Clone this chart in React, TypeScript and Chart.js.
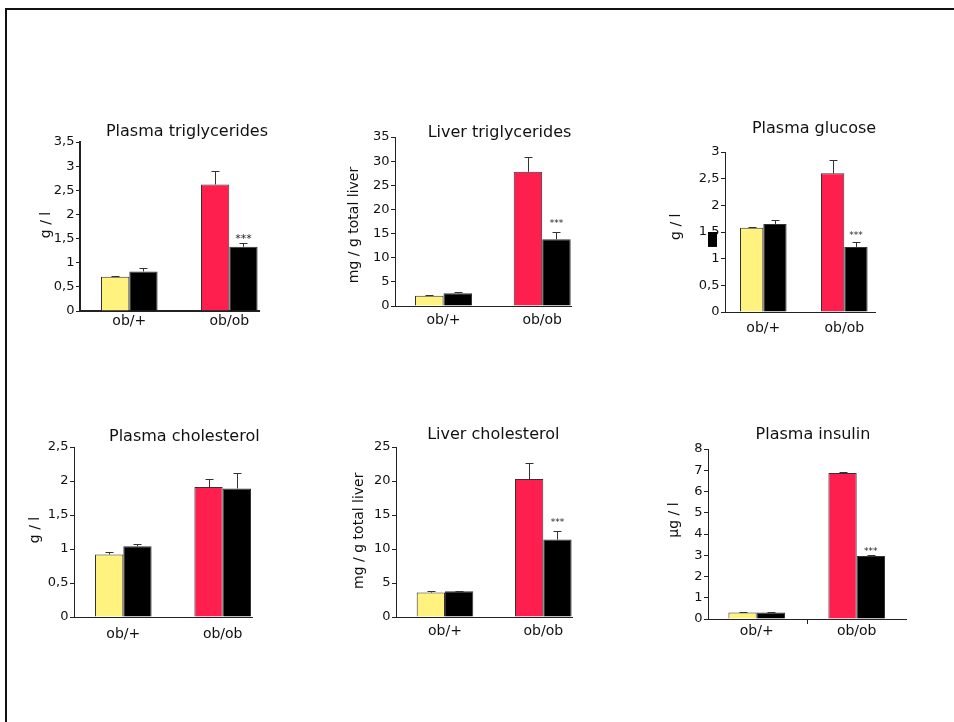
import React, { useEffect, useRef } from "react";
import { Chart, registerables } from "chart.js";

Chart.register(...registerables);

// ---------- data ----------
const categories = ["ob/+", "ob/ob"];
const panelTitles = [
  "Plasma triglycerides",
  "Liver triglycerides",
  "Plasma glucose",
  "Plasma cholesterol",
  "Liver cholesterol",
  "Plasma insulin",
];
const yAxisTitles = ["g / l", "mg / g total liver", "g / l", "g / l", "mg / g total liver", "µg / l"];
const yAxisMax = [3.5, 35, 3, 2.5, 25, 8];
const yAxisStep = [0.5, 5, 0.5, 0.5, 5, 1];

const plasmaTgUntreated = [0.71, 2.62];
const plasmaTgUntreatedErr = [0.02, 0.27];
const plasmaTgTreated = [0.82, 1.33];
const plasmaTgTreatedErr = [0.08, 0.07];

const liverTgUntreated = [2.14, 27.8];
const liverTgUntreatedErr = [0.2, 3.0];
const liverTgTreated = [2.63, 13.8];
const liverTgTreatedErr = [0.3, 1.6];

const glucoseUntreated = [1.58, 2.6];
const glucoseUntreatedErr = [0.02, 0.25];
const glucoseTreated = [1.65, 1.22];
const glucoseTreatedErr = [0.07, 0.09];

const plasmaCholUntreated = [0.92, 1.91];
const plasmaCholUntreatedErr = [0.03, 0.12];
const plasmaCholTreated = [1.04, 1.89];
const plasmaCholTreatedErr = [0.04, 0.23];

const liverCholUntreated = [3.59, 20.3];
const liverCholUntreatedErr = [0.24, 2.4];
const liverCholTreated = [3.78, 11.38];
const liverCholTreatedErr = [0.1, 1.2];

const insulinUntreated = [0.31, 6.87];
const insulinUntreatedErr = [0.02, 0.06];
const insulinTreated = [0.31, 2.97];
const insulinTreatedErr = [0.01, 0.06];

const treatedSignificance = [
  ["", "***"],
  ["", "***"],
  ["", "***"],
  ["", ""],
  ["", "***"],
  ["", "***"],
];

const untreatedMeans = [plasmaTgUntreated, liverTgUntreated, glucoseUntreated, plasmaCholUntreated, liverCholUntreated, insulinUntreated];
const untreatedErrs = [plasmaTgUntreatedErr, liverTgUntreatedErr, glucoseUntreatedErr, plasmaCholUntreatedErr, liverCholUntreatedErr, insulinUntreatedErr];
const treatedMeans = [plasmaTgTreated, liverTgTreated, glucoseTreated, plasmaCholTreated, liverCholTreated, insulinTreated];
const treatedErrs = [plasmaTgTreatedErr, liverTgTreatedErr, glucoseTreatedErr, plasmaCholTreatedErr, liverCholTreatedErr, insulinTreatedErr];

// ---------- style / layout ----------
const YELLOW = "#FFF27E";
const RED = "#FF1F4E";
const BLACK = "#000000";
const FONT = "'DejaVu Sans', Verdana, sans-serif";

const LAYOUT = [
  { axisLeft: 80, axisRight: 259, top: 142, zero: 311, c1: 129.3, c2: 229.3, barW: 28.3, titleX: 187, titleBase: 136, yTitleX: 46, yTitleY: 225, xPad: 2, axisW: 2, starRise: 8.3, starSize: 11 },
  { axisLeft: 395, axisRight: 571, top: 137, zero: 306, c1: 443.5, c2: 542.2, barW: 28.5, titleX: 499.5, titleBase: 136.7, yTitleX: 354, yTitleY: 225, xPad: 6, axisW: 1, starRise: 11.7, starSize: 9 },
  { axisLeft: 725, axisRight: 875, top: 152, zero: 312, c1: 763.3, c2: 844.3, barW: 23.3, titleX: 814, titleBase: 133.3, yTitleX: 676, yTitleY: 226.7, xPad: 8, axisW: 1, starRise: 9.6, starSize: 9, blot: true },
  { axisLeft: 74, axisRight: 252, top: 447, zero: 617, c1: 123.3, c2: 222.7, barW: 28.3, titleX: 184.3, titleBase: 440.7, yTitleX: 35, yTitleY: 530, xPad: 9, axisW: 1, starRise: 0, starSize: 9 },
  { axisLeft: 396, axisRight: 572, top: 447, zero: 617, c1: 445, c2: 543.3, barW: 28.3, titleX: 493.3, titleBase: 439, yTitleX: 359, yTitleY: 530.7, xPad: 6, axisW: 1, starRise: 11.3, starSize: 9 },
  { axisLeft: 708, axisRight: 906, top: 449, zero: 619, c1: 756.7, c2: 856.7, barW: 28.3, titleX: 813, titleBase: 439, yTitleX: 674, yTitleY: 520, xPad: 4, axisW: 1, starRise: 7, starSize: 9, midTick: true },
];

const Y_W = 70;
const PAD_T = 45;
const PAD_R = 30;
const X_H = 40;

const decorPlugin = {
  id: "panelDecor",
  afterDatasetsDraw(chart: any, _args: any, opts: any) {
    const ctx = chart.ctx;
    const yS = chart.scales.y;
    chart.data.datasets.forEach((ds: any, di: number) => {
      const meta = chart.getDatasetMeta(di);
      meta.data.forEach((bar: any, j: number) => {
        const v = ds.data[j].y;
        const e = ds.errors[j];
        const yTop = yS.getPixelForValue(v);
        const yErr = Math.round(yS.getPixelForValue(v + e)) + 0.5;
        const bx = Math.round(bar.x) + 0.5;
        ctx.save();
        ctx.strokeStyle = "#333";
        ctx.lineWidth = 1;
        ctx.beginPath();
        ctx.moveTo(bx, yTop);
        ctx.lineTo(bx, yErr);
        ctx.moveTo(bx - 4, yErr);
        ctx.lineTo(bx + 4, yErr);
        ctx.stroke();
        const star = ds.stars ? ds.stars[j] : "";
        if (star) {
          ctx.fillStyle = "#222";
          ctx.font = `${opts.starSize}px ${FONT}`;
          ctx.textAlign = "center";
          ctx.textBaseline = "alphabetic";
          ctx.fillText(star, bar.x, yErr - opts.starRise + 0.58 * opts.starSize);
        }
        ctx.restore();
      });
    });
  },
  afterDraw(chart: any, _args: any, opts: any) {
    const ctx = chart.ctx;
    const xS = chart.scales.x;
    const yS = chart.scales.y;
    const area = chart.chartArea;
    ctx.save();
    ctx.fillStyle = "#111";
    ctx.font = `16px ${FONT}`;
    ctx.textAlign = "center";
    ctx.textBaseline = "alphabetic";
    ctx.fillText(opts.title, opts.titleX, opts.titleY);

    ctx.save();
    ctx.translate(opts.yTitleX, opts.yTitleY);
    ctx.rotate(-Math.PI / 2);
    ctx.font = `14px ${FONT}`;
    ctx.textBaseline = "middle";
    ctx.fillText(opts.yTitle, 0, 0);
    ctx.restore();

    if (opts.midTick) {
      const mx = Math.round(xS.getPixelForValue(0.5)) + 0.5;
      ctx.strokeStyle = "#222";
      ctx.lineWidth = 1;
      ctx.beginPath();
      ctx.moveTo(mx, area.bottom);
      ctx.lineTo(mx, area.bottom + 5);
      ctx.stroke();
    }
    if (opts.blot) {
      const y1 = yS.getPixelForValue(1.5);
      const y2 = yS.getPixelForValue(1.22);
      ctx.fillStyle = "#000";
      ctx.fillRect(area.left - 17, y1, 9, y2 - y1);
    }
    ctx.restore();
  },
};

function fmt(v: number) {
  return String(Math.round(v * 100) / 100).replace(".", ",");
}

function Panel({ idx }: { idx: number }) {
  const ref = useRef<HTMLCanvasElement>(null);
  const L: any = LAYOUT[idx];
  const cl = L.axisLeft - Y_W;
  const ct = L.top - PAD_T;
  const cw = L.axisRight - cl + PAD_R;
  const ch = L.zero - ct + X_H;

  useEffect(() => {
    if (!ref.current) return;
    const sp = L.c2 - L.c1;
    const xMin = -(L.c1 - L.axisLeft) / sp;
    const xMax = 1 + (L.axisRight - L.c2) / sp;
    const catPct = (2 * L.barW) / sp;
    const chart = new Chart(ref.current, {
      type: "bar",
      data: {
        datasets: [
          {
            label: "untreated",
            data: untreatedMeans[idx].map((v, i) => ({ x: i, y: v })),
            backgroundColor: [YELLOW, RED],
            borderColor: "#333",
            borderWidth: 1,
            categoryPercentage: catPct,
            barPercentage: 1,
            errors: untreatedErrs[idx],
            stars: ["", ""],
          } as any,
          {
            label: "treated",
            data: treatedMeans[idx].map((v, i) => ({ x: i, y: v })),
            backgroundColor: BLACK,
            borderColor: "#333",
            borderWidth: 1,
            categoryPercentage: catPct,
            barPercentage: 1,
            errors: treatedErrs[idx],
            stars: treatedSignificance[idx],
          } as any,
        ],
      },
      options: {
        responsive: false,
        animation: false,
        devicePixelRatio: 1,
        layout: { padding: { left: 0, top: PAD_T, right: PAD_R, bottom: 0 } },
        plugins: {
          legend: { display: false },
          tooltip: { enabled: false },
          title: { display: false },
          panelDecor: {
            title: panelTitles[idx],
            titleX: L.titleX - cl,
            titleY: L.titleBase - ct,
            yTitle: yAxisTitles[idx],
            yTitleX: L.yTitleX - cl,
            yTitleY: L.yTitleY - ct,
            starRise: L.starRise,
            starSize: L.starSize,
            midTick: !!L.midTick,
            blot: !!L.blot,
          },
        } as any,
        scales: {
          x: {
            type: "linear",
            min: xMin,
            max: xMax,
            bounds: "data",
            offset: false,
            grid: { display: false, drawTicks: false, offset: false },
            border: { display: true, color: "#222", width: L.axisW },
            afterBuildTicks: (s: any) => {
              s.ticks = categories.map((_, i) => ({ value: i }));
            },
            afterFit: (s: any) => {
              s.height = X_H;
            },
            ticks: {
              autoSkip: false,
              maxRotation: 0,
              padding: L.xPad,
              color: "#111",
              font: { family: FONT, size: 14 },
              callback: (v: any) => categories[v] ?? "",
            },
          },
          y: {
            type: "linear",
            min: 0,
            max: yAxisMax[idx],
            bounds: "data",
            grid: { display: true, drawOnChartArea: false, drawTicks: true, tickLength: 4, color: "#222" },
            border: { display: true, color: "#222", width: L.axisW },
            afterFit: (s: any) => {
              s.width = Y_W;
            },
            ticks: {
              stepSize: yAxisStep[idx],
              padding: 1.5,
              color: "#111",
              font: { family: FONT, size: 13 },
              callback: (v: any) => fmt(Number(v)),
            },
          },
        } as any,
      },
      plugins: [decorPlugin as any],
    });
    return () => chart.destroy();
  }, [idx]);

  return (
    <canvas
      ref={ref}
      width={cw}
      height={ch}
      style={{ position: "absolute", left: cl, top: ct, width: cw, height: ch }}
    />
  );
}

export default function App() {
  return (
    <div
      style={{
        position: "absolute",
        left: 0,
        top: 0,
        width: 954,
        height: 722,
        overflow: "hidden",
        background: "#fff",
      }}
    >
      <div
        style={{
          position: "absolute",
          left: 5,
          top: 8,
          width: 1000,
          height: 800,
          borderLeft: "2px solid #111",
          borderTop: "2px solid #111",
        }}
      />
      {panelTitles.map((_, i) => (
        <Panel key={i} idx={i} />
      ))}
    </div>
  );
}
